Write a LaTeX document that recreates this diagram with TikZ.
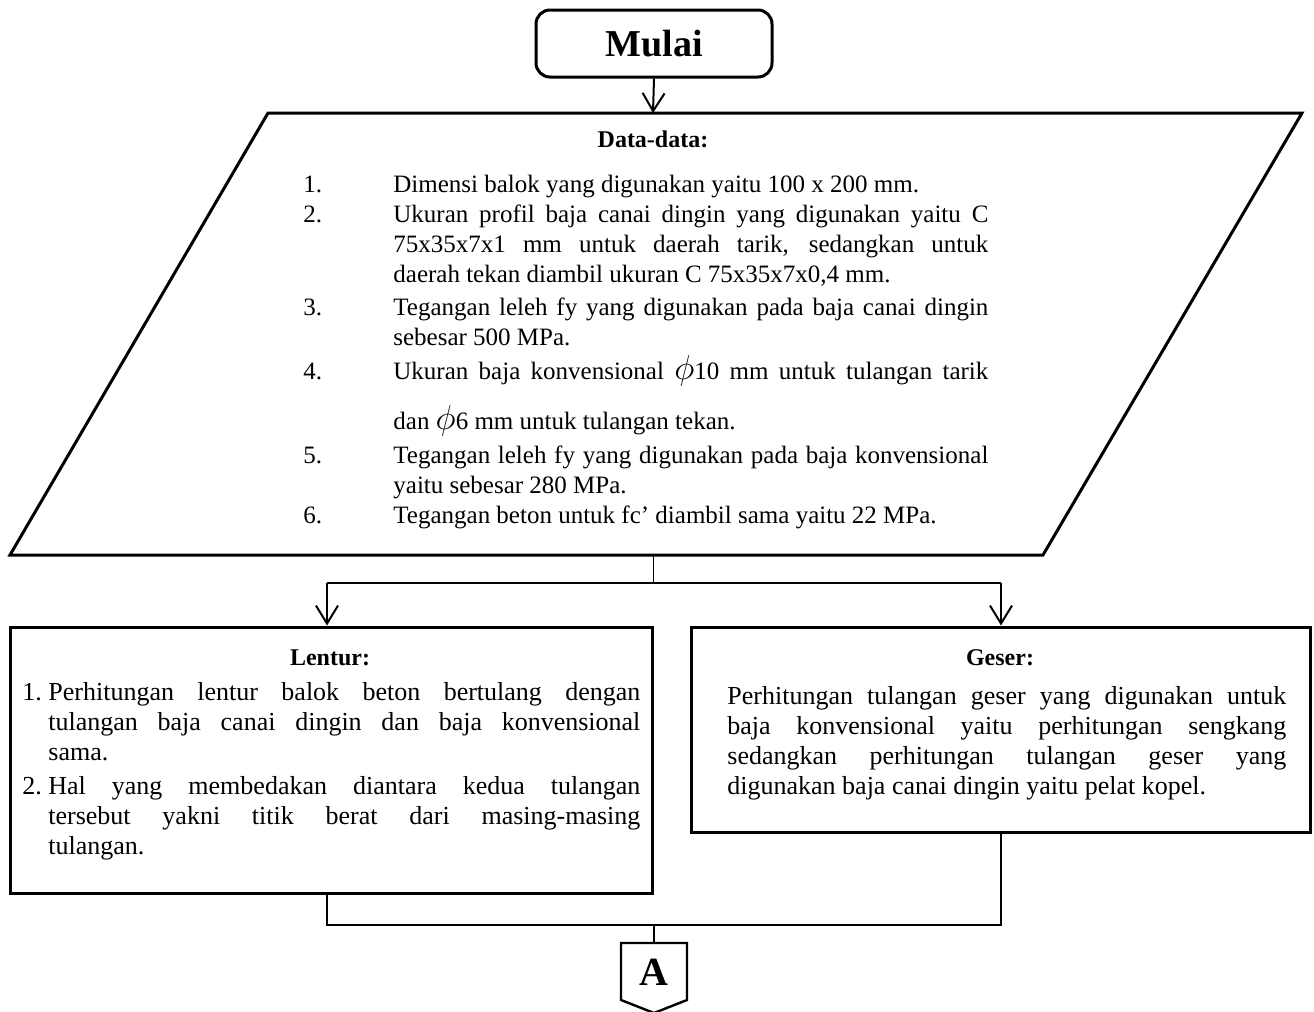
\documentclass[tikz,border=0pt]{standalone}
\usepackage{fontspec}
\setmainfont{Liberation Serif}
\usetikzlibrary{arrows.meta,positioning}

\newcommand{\bigphi}{{\fontsize{17}{15}\selectfont$\phi$}}

\tikzset{
  box/.style={draw, line width=1.5pt, inner sep=0pt},
  link/.style={line width=1pt},
  arr/.style={link, -{Straight Barb[length=9pt,width=11pt]}},
  txt/.style={font=\fontsize{12.5}{15}\selectfont, inner sep=0pt, anchor=base west},
  par/.style={txt, align=justify},
  bigpar/.style={par, font=\fontsize{13}{15}\selectfont},
  ttl/.style={font=\fontsize{12}{15}\selectfont\bfseries, inner sep=0pt, anchor=base},
}

\begin{document}
\begin{tikzpicture}[x=0.5pt,y=-0.5pt]
\useasboundingbox (0,0) rectangle (1314,1012);

% start
\node[box, rounded corners=7pt, minimum width=118pt, minimum height=33.5pt] (start) at (654,43.5) {};
\node[inner sep=0pt, font=\fontsize{19}{22}\selectfont\bfseries] (startlbl) at (start) {Mulai};

% data (parallelogram)
\coordinate (dtop) at (653,113);
\coordinate (dbot) at (653,555);
\draw[line width=1.5pt] (268,113) -- (1302,113) -- (1043,555) -- (10,555) -- cycle;
\draw[arr] (start.south) -- (dtop);

\node[ttl] (datattl) at (653,148) {Data-data:};
\foreach \n/\y in {1/192,2/222,3/315,4/379,5/463,6/523}
  \node[txt] (num\n) at (303,\y) {\n.};
\node[par, text width=297.5pt] (d1) at (393,192) {Dimensi balok yang digunakan yaitu 100 x 200 mm.};
\node[par, text width=297.5pt] (d2) at (393,222) {Ukuran profil baja canai dingin yang digunakan yaitu C\linebreak 75x35x7x1 mm untuk daerah tarik, sedangkan untuk\linebreak daerah tekan diambil ukuran C 75x35x7x0,4 mm.};
\node[par, text width=297.5pt] (d3) at (393,315) {Tegangan leleh fy yang digunakan pada baja canai dingin\linebreak sebesar 500 MPa.};
\node[par, text width=297.5pt] (d4) at (393,379) {\makebox[\linewidth][s]{Ukuran baja konvensional \bigphi10 mm untuk tulangan tarik}\par\vspace{9pt}dan \bigphi6 mm untuk tulangan tekan.};
\node[par, text width=297.5pt] (d5) at (393,463) {Tegangan leleh fy yang digunakan pada baja konvensional\linebreak yaitu sebesar 280 MPa.};
\node[par, text width=297.5pt] (d6) at (393,523) {Tegangan beton untuk fc’ diambil sama yaitu 22 MPa.};

% split
\coordinate (split) at (653,583);
\coordinate (jl) at (327,583);
\coordinate (jr) at (1001,583);
\draw[line width=0.5pt] (dbot) -- (split);
\draw[link] (jl) -- (jr);

% lentur
\node[box, minimum width=321pt, minimum height=133pt] (lentur) at (331,760) {};
\node[ttl] (lenturttl) at (330,665) {Lentur:};
\node[txt, font=\fontsize{13}{15}\selectfont] (l1n) at (22,700) {1.};
\node[bigpar, text width=296pt] (l1) at (48,700) {Perhitungan lentur balok beton bertulang dengan\linebreak tulangan baja canai dingin dan baja konvensional\linebreak sama.};
\node[txt, font=\fontsize{13}{15}\selectfont] (l2n) at (22,794) {2.};
\node[bigpar, text width=296pt] (l2) at (48,794) {Hal yang membedakan diantara kedua tulangan\linebreak tersebut yakni titik berat dari masing-masing\linebreak tulangan.};

% geser
\node[box, minimum width=309.5pt, minimum height=102.5pt] (geser) at (1000.5,729.5) {};
\node[ttl] (geserttl) at (1000,665) {Geser:};
\node[bigpar, text width=279.5pt] (g1) at (727,704) {Perhitungan tulangan geser yang digunakan untuk\linebreak baja konvensional yaitu perhitungan sengkang\linebreak sedangkan perhitungan tulangan geser yang\linebreak digunakan baja canai dingin yaitu pelat kopel.};

\draw[arr] (jl) -- (jl |- lentur.north);
\draw[arr] (jr) -- (jr |- geser.north);

% merge
\coordinate (ml) at (327,925);
\coordinate (mr) at (1001,925);
\coordinate (mm) at (654,925);
\draw[link] (ml |- lentur.south) -- (ml) -- (mr) -- (mr |- geser.south);

% connector A
\node[inner sep=0pt, font=\fontsize{20}{24}\selectfont\bfseries] (conA) at (654,972) {A};
\draw[line width=1.2pt] (621,943) -- (687,943) -- (687,1000) -- (654,1013) -- (621,1000) -- cycle;
\draw[link] (mm) -- (654,943);

\end{tikzpicture}
\end{document}
